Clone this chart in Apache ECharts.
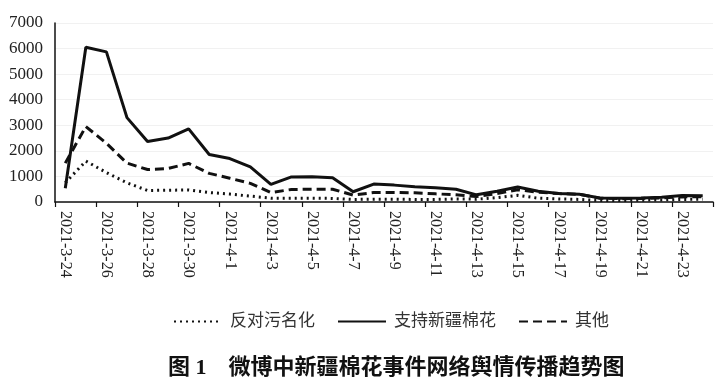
<!DOCTYPE html>
<html>
<head>
<meta charset="utf-8">
<script src="https://cdn.jsdelivr.net/npm/echarts@6/dist/echarts.min.js"></script>
<style>
html,body{margin:0;padding:0;background:#fff;}
#c{width:725px;height:386px;}
</style>
</head>
<body>
<div id="c"></div>
<script>
var categories = ['2021-3-24','2021-3-25','2021-3-26','2021-3-27','2021-3-28','2021-3-29','2021-3-30','2021-3-31',
  '2021-4-1','2021-4-2','2021-4-3','2021-4-4','2021-4-5','2021-4-6','2021-4-7','2021-4-8','2021-4-9','2021-4-10',
  '2021-4-11','2021-4-12','2021-4-13','2021-4-14','2021-4-15','2021-4-16','2021-4-17','2021-4-18','2021-4-19',
  '2021-4-20','2021-4-21','2021-4-22','2021-4-23','2021-4-24'];
var antiStigma = [750, 1600, 1150, 750, 450, 460, 470, 370, 310, 230, 150, 150, 150, 140, 100, 110, 110, 100, 100, 120, 110, 170, 260, 150, 120, 100, 60, 60, 70, 80, 100, 110];
var supportCotton = [540, 6050, 5870, 3300, 2370, 2500, 2860, 1860, 1700, 1370, 690, 980, 985, 945, 400, 700, 660, 600, 560, 500, 280, 420, 590, 420, 330, 300, 160, 150, 160, 190, 250, 240];
var others = [1520, 2950, 2300, 1520, 1270, 1310, 1510, 1120, 930, 730, 370, 490, 500, 500, 270, 370, 370, 360, 320, 280, 210, 330, 480, 380, 330, 300, 150, 130, 140, 160, 200, 210];
var seriesNames = ['反对污名化', '支持新疆棉花', '其他'];
var yTicks = [0, 1000, 2000, 3000, 4000, 5000, 6000, 7000];
var titleText = '图 1\u3000微博中新疆棉花事件网络舆情传播趋势图';

var serif = "'Liberation Serif', 'Noto Sans CJK SC', serif";
var chart = echarts.init(document.getElementById('c'), null, {renderer: 'canvas'});
chart.setOption({
  animation: false,
  backgroundColor: '#fff',
  title: {
    text: titleText,
    left: 163,
    top: 352,
    textStyle: {fontFamily: serif, fontSize: 22, fontWeight: 'bold', color: '#111'}
  },
  legend: {
    left: 168,
    top: 308,
    itemWidth: 48,
    itemHeight: 14,
    itemGap: 22,
    data: seriesNames,
    itemStyle: {opacity: 0},
    textStyle: {fontFamily: serif, fontSize: 17, color: '#333', padding: [0, 0, 0, 3]}
  },
  grid: {left: 55, right: 12, top: 23, bottom: 184, containLabel: false},
  xAxis: {
    type: 'category',
    data: categories,
    boundaryGap: true,
    axisLine: {lineStyle: {color: '#111', width: 1.5}},
    axisTick: {show: true, interval: 1, length: 5, lineStyle: {color: '#111', width: 1.2}},
    axisLabel: {interval: 1, rotate: -90, fontFamily: serif, fontSize: 16, color: '#222', margin: 9}
  },
  yAxis: {
    type: 'value',
    min: yTicks[0],
    max: yTicks[yTicks.length - 1],
    interval: 1000,
    axisLine: {show: true, lineStyle: {color: '#111', width: 1.5}},
    axisTick: {show: false},
    splitLine: {show: true, lineStyle: {color: '#f1f1f1', width: 1}},
    axisLabel: {fontFamily: serif, fontSize: 17, color: '#222', margin: 12, formatter: function (v) { return String(v); }}
  },
  series: [
    {
      name: seriesNames[0], type: 'line', data: antiStigma, symbol: 'none',
      lineStyle: {color: '#111', width: 3, type: [2, 4]}, itemStyle: {color: '#111'}
    },
    {
      name: seriesNames[1], type: 'line', data: supportCotton, symbol: 'none',
      lineStyle: {color: '#111', width: 3, type: 'solid'}, itemStyle: {color: '#111'}
    },
    {
      name: seriesNames[2], type: 'line', data: others, symbol: 'none',
      lineStyle: {color: '#111', width: 3, type: [9, 5]}, itemStyle: {color: '#111'}
    }
  ]
});
</script>
</body>
</html>
